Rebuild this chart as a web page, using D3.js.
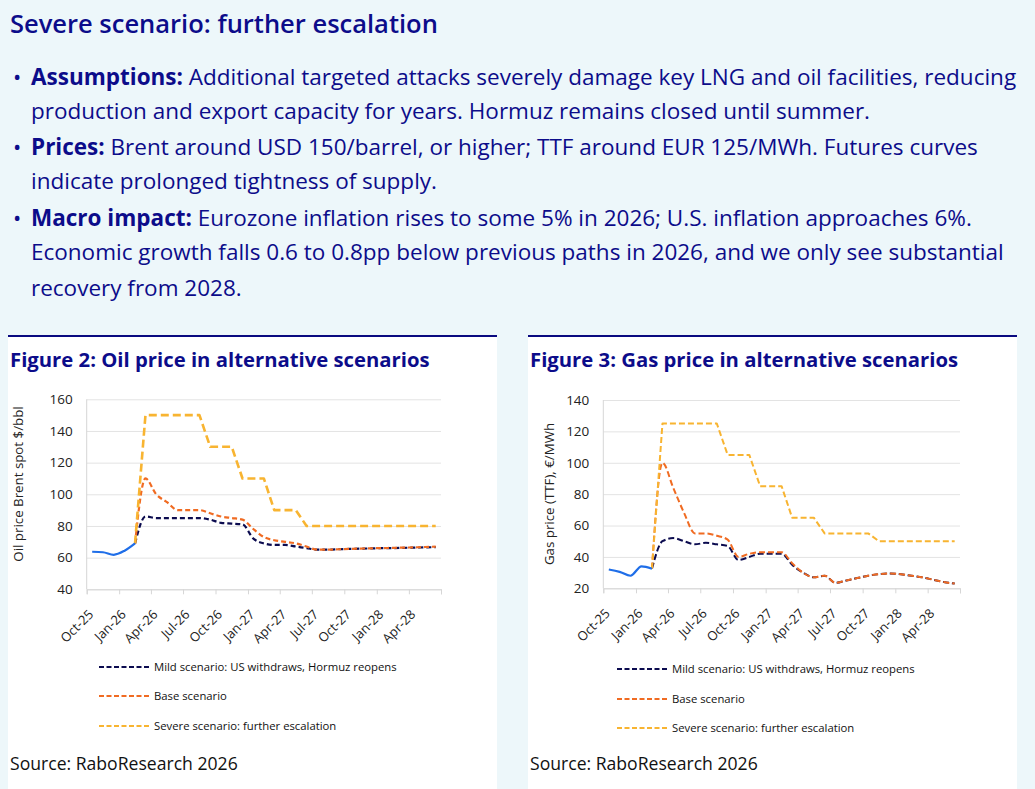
<!DOCTYPE html>
<html>
<head>
<meta charset="utf-8">
<script src="https://cdn.jsdelivr.net/npm/d3@7"></script>
<style>
  html, body { margin: 0; padding: 0; background: #edf7fa; }
  svg { display: block; font-family: "Open Sans", "Noto Sans", sans-serif; }
</style>
</head>
<body>
<svg id="page" width="1035" height="789"></svg>
<script>
// ---- data ----
// monthly points Oct-25 .. Jun-28; history covers Oct-25..Feb-26,
// scenarios start at Feb-26 (shared point with history)
const firstMonth = new Date(2025, 9, 1);
const endMonth = new Date(2028, 6, 1);
const xTickLabels = ["Oct-25", "Jan-26", "Apr-26", "Jul-26", "Oct-26", "Jan-27",
  "Apr-27", "Jul-27", "Oct-27", "Jan-28", "Apr-28"];

const oilHistory = [63.7, 63.4, 61.8, 64.4, 69];
const oilMild = [69, 86, 85, 85, 85, 85, 85, 84, 82, 81.5, 81, 72, 69, 68, 68, 67, 66,
  65, 65, 65.3, 65.5, 65.7, 65.8, 66, 66, 66.2, 66.3, 66.5, 66.6];
const oilBase = [69, 110, 100, 95, 90, 90, 90, 88, 86, 85, 84, 78, 73, 71, 70, 69, 67,
  65, 65, 65.3, 65.5, 65.7, 65.9, 66, 66.2, 66.3, 66.5, 66.7, 67];
const oilSevere = [69, 150, 150, 150, 150, 150, 150, 130, 130, 130, 110, 110, 110,
  90, 90, 90, 80, 80, 80, 80, 80, 80, 80, 80, 80, 80, 80, 80, 80];

const gasHistory = [32, 30.5, 28, 34, 32.5];
const gasMild = [32.5, 50, 52, 50, 48, 49, 48, 47, 38, 40, 42, 42, 42, 35, 30, 27, 28,
  23.5, 25, 26.5, 28, 29, 29.5, 29, 28, 27, 25.5, 24, 23];
const gasBase = [32.5, 100, 84, 68, 55, 55, 53.5, 51, 40, 42, 43, 43, 43, 36, 30, 27, 28,
  23.5, 25, 26.5, 28, 29, 29.5, 29, 28, 27, 25.5, 24, 23];
const gasSevere = [32.5, 125, 125, 125, 125, 125, 125, 105, 105, 105, 85, 85, 85,
  65, 65, 65, 55, 55, 55, 55, 55, 50, 50, 50, 50, 50, 50, 50, 50];

const oilTicks = [40, 60, 80, 100, 120, 140, 160];
const gasTicks = [20, 40, 60, 80, 100, 120, 140];

const legendLabels = ["Mild scenario: US withdraws, Hormuz reopens", "Base scenario",
  "Severe scenario: further escalation"];

const headline = "Severe scenario: further escalation";
const bullets = [
  { bold: "Assumptions:", lines: [
    " Additional targeted attacks severely damage key LNG and oil facilities, reducing",
    "production and export capacity for years. Hormuz remains closed until summer."] },
  { bold: "Prices:", lines: [
    " Brent around USD 150/barrel, or higher; TTF around EUR 125/MWh. Futures curves",
    "indicate prolonged tightness of supply."] },
  { bold: "Macro impact:", lines: [
    " Eurozone inflation rises to some 5% in 2026; U.S. inflation approaches 6%.",
    "Economic growth falls 0.6 to 0.8pp below previous paths in 2026, and we only see substantial",
    "recovery from 2028."] }
];

// ---- colours ----
const navyText = "#0c0c8a";
const colHist = "#1f6ee8";
const colMild = "#0b0b4f";
const colBase = "#f06b22";
const colSevere = "#f8b431";

const svg = d3.select("#page");

// header
svg.append("text")
  .attr("x", 10).attr("y", 33)
  .attr("fill", navyText)
  .style("font-size", "25.5px").style("font-weight", 600)
  .text(headline);

const lineBaselines = [[85, 119], [155, 189], [226, 260, 296]];
bullets.forEach((b, i) => {
  svg.append("text").attr("x", 13).attr("y", lineBaselines[i][0])
    .attr("fill", navyText).style("font-size", "22px").text("\u2022");
  b.lines.forEach((ln, j) => {
    const t = svg.append("text").attr("x", 31).attr("y", lineBaselines[i][j])
      .attr("fill", navyText).style("font-size", "22.5px");
    if (j === 0) t.append("tspan").style("font-weight", 700).text(b.bold);
    t.append("tspan").text(ln);
  });
});

// panels
function panel(x0, x1, title) {
  svg.append("rect").attr("x", x0).attr("y", 337).attr("width", x1 - x0).attr("height", 452)
    .attr("fill", "#fff");
  svg.append("line").attr("x1", x0).attr("x2", x1).attr("y1", 336).attr("y2", 336)
    .attr("stroke", "#0a0a80").attr("stroke-width", 2);
  svg.append("text").attr("x", x0 + 2).attr("y", 367).attr("fill", navyText)
    .style("font-size", "20.3px").style("font-weight", 700).text(title);
  svg.append("text").attr("x", x0 + 2).attr("y", 770).attr("fill", "#111")
    .style("font-size", "17.6px").text("Source: RaboResearch 2026");
}
panel(8, 497, "Figure 2: Oil price in alternative scenarios");
panel(528, 1017, "Figure 3: Gas price in alternative scenarios");

function drawChart(cfg) {
  const months = d3.timeMonth.range(firstMonth, endMonth);
  const mid = m => new Date((+m + +d3.timeMonth.offset(m, 1)) / 2);
  const x = d3.scaleTime().domain([firstMonth, endMonth]).range([cfg.x0, cfg.x1]);
  const y = d3.scaleLinear().domain(d3.extent(cfg.ticks)).range([cfg.y1, cfg.y0]);
  const g = svg.append("g");

  // grid + y labels
  const yAxis = d3.axisLeft(y).tickValues(cfg.ticks).tickSize(-(cfg.x1 - cfg.x0)).tickPadding(14);
  const ya = g.append("g").attr("transform", `translate(${cfg.x0},0)`).call(yAxis);
  ya.select(".domain").remove();
  ya.selectAll(".tick line").attr("stroke", "#e3e3e3");
  ya.selectAll(".tick text").attr("fill", "#222").style("font-size", "13.5px")
    .style("font-family", "Open Sans, sans-serif");
  g.append("line").attr("x1", cfg.x0).attr("x2", cfg.x0).attr("y1", cfg.y0).attr("y2", cfg.y1)
    .attr("stroke", "#d6d6d6");

  // x axis
  const tickDates = d3.timeMonth.every(3).range(firstMonth, d3.timeMonth.offset(endMonth, 1));
  const xAxis = d3.axisBottom(x).tickValues(tickDates).tickSize(5)
    .tickFormat((d, i) => xTickLabels[i] || "");
  const xa = g.append("g").attr("transform", `translate(0,${cfg.y1})`).call(xAxis);
  xa.select(".domain").attr("stroke", "#d6d6d6");
  xa.selectAll(".tick line").attr("stroke", "#d6d6d6");
  xa.selectAll(".tick text")
    .attr("fill", "#222").style("font-size", "13px")
    .style("font-family", "Open Sans, sans-serif")
    .attr("text-anchor", "end")
    .attr("y", 0).attr("dy", 0)
    .attr("transform", "translate(7,26) rotate(-45)");

  // y title
  g.append("text")
    .attr("transform", `translate(${cfg.titleX},${cfg.titleY}) rotate(-90)`)
    .attr("text-anchor", "middle").attr("fill", "#222")
    .style("font-size", "13.3px").text(cfg.yTitle);

  const line = d3.line().x(d => x(mid(d.m))).y(d => y(d.v));
  const toPts = (vals, offset) => vals.map((v, i) => ({ m: months[i + offset], v }));
  const start = cfg.history.length - 1;

  const series = [
    { vals: cfg.mild, col: colMild, w: cfg.wMild, dash: cfg.dashMild },
    { vals: cfg.base, col: colBase, w: cfg.wBase, dash: cfg.dashBase },
    { vals: cfg.severe, col: colSevere, w: cfg.wSevere, dash: cfg.dashSevere, linear: true }
  ];
  series.forEach(s => {
    const ln = s.linear ? line.curve(d3.curveLinear) : line.curve(d3.curveMonotoneX);
    g.append("path").attr("d", ln(toPts(s.vals, start)))
      .attr("fill", "none").attr("stroke", s.col).attr("stroke-width", s.w)
      .attr("stroke-dasharray", s.dash).attr("stroke-linejoin", "round");
  });
  g.append("path").attr("d", line.curve(d3.curveMonotoneX)(toPts(cfg.history, 0)))
    .attr("fill", "none").attr("stroke", colHist).attr("stroke-width", 2.2)
    .attr("stroke-linejoin", "round");

  // legend
  const legCols = [colMild, colBase, colSevere];
  legendLabels.forEach((lab, i) => {
    const ly = cfg.legY[i];
    g.append("line").attr("x1", cfg.legX).attr("x2", cfg.legX + 50).attr("y1", ly).attr("y2", ly)
      .attr("stroke", legCols[i]).attr("stroke-width", 2).attr("stroke-dasharray", "5,2.5");
    g.append("text").attr("x", cfg.legX + 55).attr("y", ly).attr("dy", "0.35em")
      .attr("fill", "#111").style("font-size", "11.3px").text(lab);
  });
}

drawChart({
  x0: 86.7, x1: 441, y0: 399.3, y1: 589.3, ticks: oilTicks, titleX: 23, titleY: 484,
  yTitle: "Oil price Brent spot $/bbl",
  history: oilHistory, mild: oilMild, base: oilBase, severe: oilSevere,
  wMild: 2.2, wBase: 2.2, wSevere: 2.6, dashMild: "5,3", dashBase: "5,3", dashSevere: "8,4",
  legX: 99, legY: [667, 696, 726]
});
drawChart({
  x0: 603.3, x1: 960, y0: 400, y1: 588.3, ticks: gasTicks, titleX: 554, titleY: 494,
  yTitle: "Gas price (TTF), \u20ac/MWh",
  history: gasHistory, mild: gasMild, base: gasBase, severe: gasSevere,
  wMild: 2, wBase: 2, wSevere: 2, dashMild: "6,3", dashBase: "6,3", dashSevere: "6,3",
  legX: 617, legY: [669, 699, 728]
});
</script>
</body>
</html>
